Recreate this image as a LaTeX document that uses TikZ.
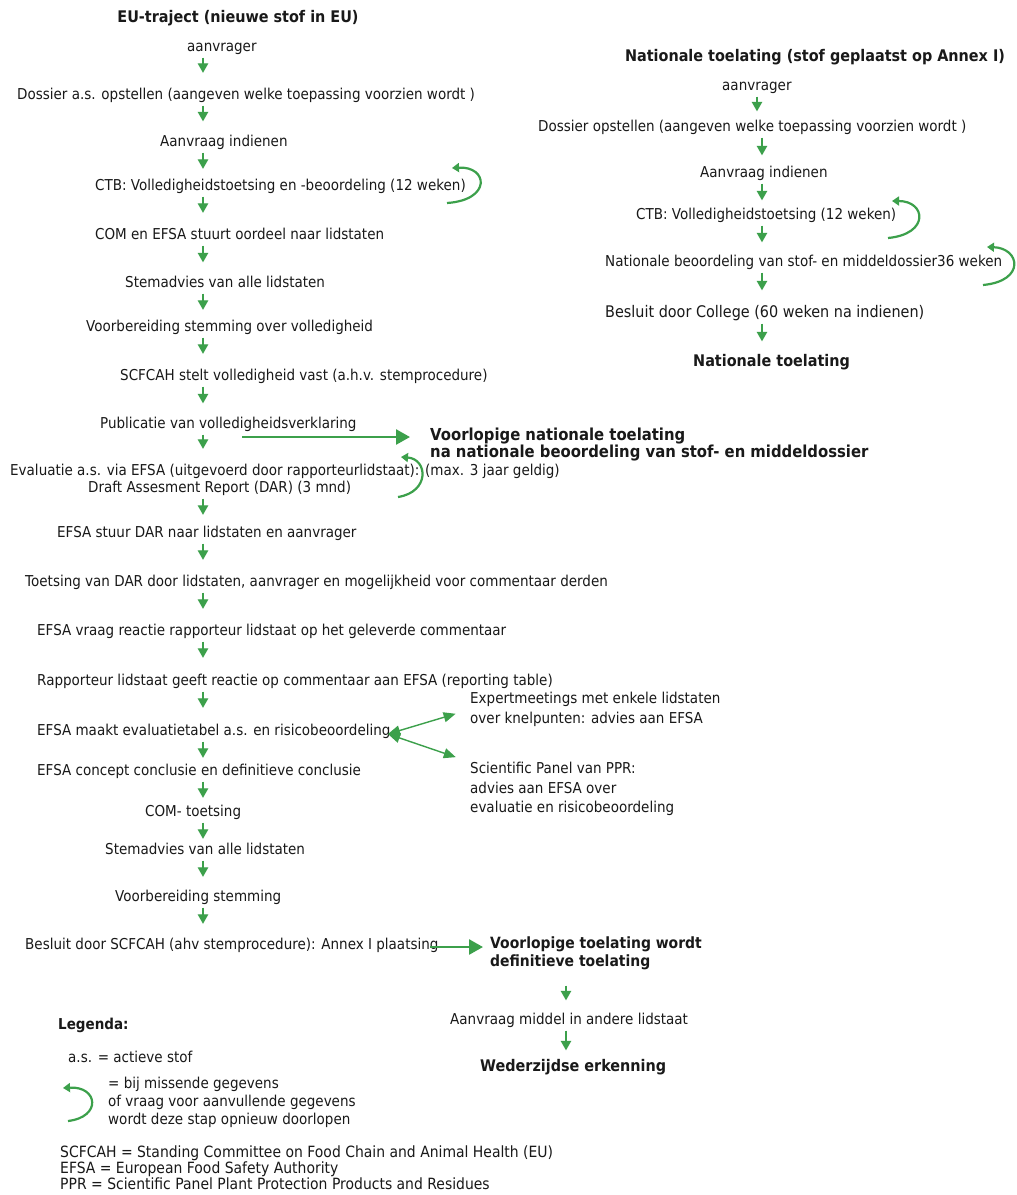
\documentclass[tikz,border=0pt]{standalone}
\usepackage{fontspec}
\setmainfont[FakeStretch=0.9]{DejaVu Sans}
\usetikzlibrary{arrows.meta}
\definecolor{grn}{RGB}{60,160,75}
\definecolor{ink}{RGB}{25,25,25}
\begin{document}
\begin{tikzpicture}[x=1pt,y=-1pt,
  tx/.style={anchor=west,inner sep=0pt,text height=11.5pt,text depth=3.5pt,
             font=\fontsize{15}{19}\selectfont,text=ink},
  bx/.style={tx,font=\fontsize{16}{19}\selectfont\bfseries},
  ml/.style={anchor=north west,inner sep=0pt,align=left,text=ink,
             font=\fontsize{15}{20}\selectfont},
  arr/.style={draw=grn,line width=1.3pt,-{Triangle[width=10.5pt,length=9.5pt]},
              shorten <=3pt,shorten >=#1},
  arr/.default=13pt,
  big/.style={draw=grn,line width=2.6pt,-{Triangle[width=15pt,length=14pt]}},
  loopar/.style={draw=grn,line width=2.2pt,-{Triangle[width=9pt,length=7pt]}},
  dbl/.style={draw=grn,line width=1.4pt,{Triangle[width=10pt,length=12pt]}-{Triangle[width=10pt,length=12pt]}}
]
\useasboundingbox (0,0) rectangle (1017,1195);
\fill[white] (0,0) rectangle (1017,1195);

% ---------- left column ----------
\coordinate (cL) at (203,0);
\node[bx,anchor=center] (t1) at (238,18) {EU-traject (nieuwe stof in EU)};
\node[tx] (a1) at (187,47) {aanvrager};
\node[tx] (a2) at (17,95) {Dossier a.s. opstellen (aangeven welke toepassing voorzien wordt )};
\node[tx] (a3) at (160,142) {Aanvraag indienen};
\node[tx] (a4) at (95,186) {CTB: Volledigheidstoetsing en -beoordeling (12 weken)};
\node[tx] (a5) at (95,235) {COM en EFSA stuurt oordeel naar lidstaten};
\node[tx] (a6) at (125,283) {Stemadvies van alle lidstaten};
\node[tx] (a7) at (86,327) {Voorbereiding stemming over volledigheid};
\node[tx] (a8) at (120,376) {SCFCAH stelt volledigheid vast (a.h.v. stemprocedure)};
\node[tx] (a9) at (100,424) {Publicatie van volledigheidsverklaring};
\node[tx] (e1) at (10,471) {Evaluatie a.s. via EFSA (uitgevoerd door rapporteurlidstaat): (max. 3 jaar geldig)};
\node[tx] (e2) at (88,488) {Draft Assesment Report (DAR) (3 mnd)};
\node[tx] (a11) at (57,533) {EFSA stuur DAR naar lidstaten en aanvrager};
\node[tx] (a12) at (25,582) {Toetsing van DAR door lidstaten, aanvrager en mogelijkheid voor commentaar derden};
\node[tx] (a13) at (37,631) {EFSA vraag reactie rapporteur lidstaat op het geleverde commentaar};
\node[tx] (a14) at (37,681) {Rapporteur lidstaat geeft reactie op commentaar aan EFSA (reporting table)};
\node[tx] (a15) at (37,731) {EFSA maakt evaluatietabel a.s. en risicobeoordeling};
\node[tx] (a16) at (37,771) {EFSA concept conclusie en definitieve conclusie};
\node[tx] (a17) at (145,812) {COM- toetsing};
\node[tx] (a18) at (105,850) {Stemadvies van alle lidstaten};
\node[tx] (a19) at (115,897) {Voorbereiding stemming};
\node[tx] (a20) at (25,945) {Besluit door SCFCAH (ahv stemprocedure): Annex I plaatsing};

\draw[arr={14.5pt}] (a1.south -| cL) -- (a2.north -| cL);
\draw[arr] (a2.south -| cL) -- (a3.north -| cL);
\draw[arr={9.5pt}] (a3.south -| cL) -- (a4.north -| cL);
\draw[arr={14.5pt}] (a4.south -| cL) -- (a5.north -| cL);
\draw[arr] (a5.south -| cL) -- (a6.north -| cL);
\draw[arr={9.5pt}] (a6.south -| cL) -- (a7.north -| cL);
\draw[arr={14.5pt}] (a7.south -| cL) -- (a8.north -| cL);
\draw[arr] (a8.south -| cL) -- (a9.north -| cL);
\draw[arr={14.5pt}] (a9.south -| cL) -- (e1.north -| cL);
\draw[arr={10.5pt}] (e2.south -| cL) -- (a11.north -| cL);
\draw[arr={14.5pt}] (a11.south -| cL) -- (a12.north -| cL);
\draw[arr={14.5pt}] (a12.south -| cL) -- (a13.north -| cL);
\draw[arr={15.5pt}] (a13.south -| cL) -- (a14.north -| cL);
\draw[arr={15.5pt}] (a14.south -| cL) -- (a15.north -| cL);
\draw[arr={5.5pt}] (a15.south -| cL) -- (a16.north -| cL);
\draw[arr={6.5pt}] (a16.south -| cL) -- (a17.north -| cL);
\draw[arr={3.5pt}] (a17.south -| cL) -- (a18.north -| cL);
\draw[arr={12.5pt}] (a18.south -| cL) -- (a19.north -| cL);
\draw[arr={13.5pt}] (a19.south -| cL) -- (a20.north -| cL);

% loops left
\coordinate (l1s) at (447,203); \coordinate (l1e) at (452,168);
\draw[loopar] (l1s) .. controls (492,200) and (488,166) .. (l1e);
\coordinate (l2s) at (398,497); \coordinate (l2e) at (401,457);
\draw[loopar] (l2s) .. controls (430,492) and (428,459) .. (l2e);

% side outcomes
\node[ml,font=\fontsize{16.5}{17}\selectfont\bfseries] (vn) at (430,428)
  {Voorlopige nationale toelating\\na nationale beoordeling van stof- en middeldossier};
\coordinate (pubstart) at (242,437);
\draw[big,shorten >=20pt] (pubstart) -- (pubstart -| vn.west);

\node[ml] (exp) at (470,692) {Expertmeetings met enkele lidstaten\\over knelpunten: advies aan EFSA};
\node[ml,font=\fontsize{15}{19.5}\selectfont] (sci) at (470,762) {Scientific Panel van PPR:\\advies aan EFSA over\\evaluatie en risicobeoordeling};
\coordinate (dd) at (388,734);
\draw[dbl,shorten >=15pt] (dd) -- (exp.west);
\draw[dbl,shorten >=15pt] (dd) -- (sci.north west);

\node[ml,font=\fontsize{15.5}{18}\selectfont\bfseries] (v2) at (490,937)
  {Voorlopige toelating wordt\\definitieve toelating};
\coordinate (bstart) at (430,947);
\draw[big,shorten >=7pt] (bstart) -- (bstart -| v2.west);

\coordinate (cB) at (566,0);
\node[tx] (b2) at (450,1020) {Aanvraag middel in andere lidstaat};
\node[bx] (b3) at (480,1067) {Wederzijdse erkenning};
\draw[arr={12pt},shorten <=15pt] (v2.south -| cB) -- (b2.north -| cB);
\draw[arr={9pt}] (b2.south -| cB) -- (b3.north -| cB);

% ---------- right column ----------
\coordinate (cR) at (762,0);
\coordinate (cR0) at (757,0);
\node[bx,anchor=center] (r0) at (815,57) {Nationale toelating (stof geplaatst op Annex I)};
\node[tx] (r1) at (722,86) {aanvrager};
\node[tx] (r2) at (538,127) {Dossier opstellen (aangeven welke toepassing voorzien wordt )};
\node[tx] (r3) at (700,173) {Aanvraag indienen};
\node[tx] (r4) at (636,215) {CTB: Volledigheidstoetsing (12 weken)};
\node[tx] (r5) at (605,262) {Nationale beoordeling van stof- en middeldossier36 weken};
\node[tx,font=\fontsize{16}{19}\selectfont] (r6) at (605,313) {Besluit door College (60 weken na indienen)};
\node[bx] (r7) at (693,362) {Nationale toelating};

\draw[arr={8pt}] (r1.south -| cR0) -- (r2.north -| cR0);
\draw[arr={10pt}] (r2.south -| cR) -- (r3.north -| cR);
\draw[arr={7pt}] (r3.south -| cR) -- (r4.north -| cR);
\draw[arr={12pt}] (r4.south -| cR) -- (r5.north -| cR);
\draw[arr={15pt}] (r5.south -| cR) -- (r6.north -| cR);
\draw[arr={13pt}] (r6.south -| cR) -- (r7.north -| cR);

\coordinate (l3s) at (888,238); \coordinate (l3e) at (892,201);
\draw[loopar] (l3s) .. controls (930,234) and (926,201) .. (l3e);
\coordinate (l4s) at (983,285); \coordinate (l4e) at (987,247);
\draw[loopar] (l4s) .. controls (1026,281) and (1020,248) .. (l4e);

% ---------- legend ----------
\node[bx,font=\fontsize{15}{19}\selectfont\bfseries] (lg) at (58,1025) {Legenda:};
\node[tx] (lg1) at (68,1058) {a.s. = actieve stof};
\node[ml,font=\fontsize{15}{18}\selectfont] (lg2) at (108,1077)
  {= bij missende gegevens\\of vraag voor aanvullende gegevens\\wordt deze stap opnieuw doorlopen};
\coordinate (l5s) at (68,1121); \coordinate (l5e) at (63,1088);
\draw[loopar] (l5s) .. controls (102,1117) and (98,1086) .. (l5e);
\node[ml,font=\fontsize{15.5}{16}\selectfont] (lg3) at (60,1146)
  {SCFCAH = Standing Committee on Food Chain and Animal Health (EU)\\EFSA = European Food Safety Authority\\PPR = Scientific Panel Plant Protection Products and Residues};
\end{tikzpicture}
\end{document}
